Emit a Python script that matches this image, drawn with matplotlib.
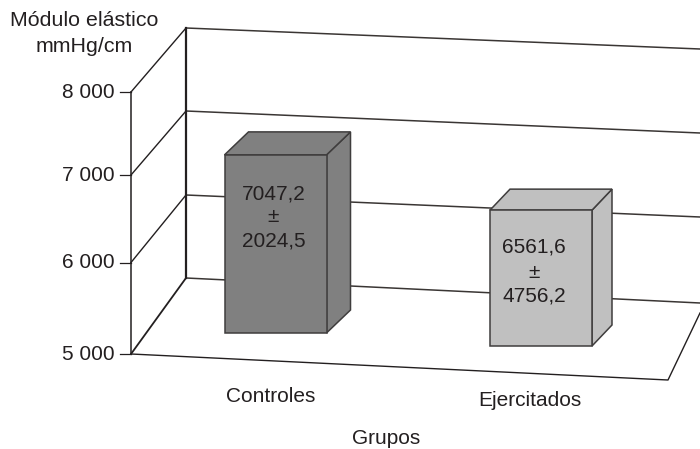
import matplotlib
matplotlib.use("Agg")
import matplotlib.pyplot as plt
from matplotlib.patches import Polygon

groups = ["Controles", "Ejercitados"]
means = [7047.2, 6561.6]
sds = [2024.5, 4756.2]
mean_labels = ["7047,2", "6561,6"]
sd_labels = ["2024,5", "4756,2"]
tick_values = [5000, 6000, 7000, 8000]
tick_labels = ["5 000", "6 000", "7 000", "8 000"]

INK = "#231f20"
FONT = "Liberation Sans"
FS = 15

# oblique projection of the chart box, in pixels
front_y = [354, 262.5, 175, 92]
back_y = [278, 195, 111, 28]
right_y = [303, 217, 133, 49]
FRONT_X, BACK_X = 131, 186
RIGHT_X = 700
BASE = tick_values[0]
PX_PER_UNIT = 0.087


def draw_bar(ax, left, base, value, depth, face, edge):
	width = 102
	dx, dy = depth
	top = base - (value - BASE) * PX_PER_UNIT
	front = [(left, base), (left + width, base), (left + width, top), (left, top)]
	side = [(left + width, base), (left + width + dx, base - dy),
		(left + width + dx, top - dy), (left + width, top)]
	cap = [(left, top), (left + width, top), (left + width + dx, top - dy), (left + dx, top - dy)]
	for pts in (side, cap, front):
		ax.add_patch(Polygon(pts, closed=True, fc=face, ec=edge, lw=1.1, zorder=3, joinstyle="miter"))


def main():
	fig = plt.figure(figsize=(7, 4.49), dpi=100)
	ax = fig.add_axes([0, 0, 1, 1])
	ax.set_xlim(0, 700)
	ax.set_ylim(449, 0)
	ax.axis("off")

	for i, label in enumerate(tick_labels):
		fy, by, ry = front_y[i], back_y[i], right_y[i]
		ax.plot([120, FRONT_X], [fy, fy], color=INK, lw=0.9)
		ax.plot([FRONT_X, BACK_X], [fy, by], color=INK, lw=1.0 if i else 1.3)
		ax.plot([BACK_X, RIGHT_X], [by, ry], color="#3a3634", lw=1.1)
		ax.text(115, fy + 0.5, label, ha="right", va="center", family=FONT, fontsize=FS, color=INK)

	# the two verticals of the box
	ax.plot([FRONT_X, FRONT_X], [front_y[-1], front_y[0]], color=INK, lw=1.1)
	ax.plot([BACK_X, BACK_X], [back_y[-1], back_y[0]], color=INK, lw=1.6)

	# floor edges
	ax.plot([FRONT_X, 668, RIGHT_X], [front_y[0], 380, 313], color=INK, lw=1.0)

	lefts = [224.5, 490]
	bases = [333, 346]
	depths = [(24, 23), (20, 21)]
	faces = ["#808080", "#c0c0c0"]
	edges = ["#3f3d3d", "#3f3d3d"]
	name_pos = [(271, 396), (530, 401)]
	text_x = [273.5, 534]
	text_y = [(194.5, 217, 241), (247, 272, 296)]
	for i, name in enumerate(groups):
		draw_bar(ax, lefts[i], bases[i], means[i], depths[i], faces[i], edges[i])
		y1, y2, y3 = text_y[i]
		for y, txt in ((y1, mean_labels[i]), (y2, "±"), (y3, sd_labels[i])):
			ax.text(text_x[i], y, txt, ha="center", va="center", family=FONT, fontsize=FS, color=INK, zorder=4)
		ax.text(*name_pos[i], name, ha="center", va="center", family=FONT, fontsize=FS, color=INK)

	ax.text(84, 21, "Módulo elástico", ha="center", va="center", family=FONT, fontsize=FS + 0.4, color=INK)
	ax.text(84, 46, "mmHg/cm", ha="center", va="center", family=FONT, fontsize=FS + 0.4, color=INK)
	ax.text(386.5, 438, "Grupos", ha="center", va="center", family=FONT, fontsize=FS, color=INK)

	fig.savefig("out.png", dpi=100)


if __name__ == "__main__":
	main()
